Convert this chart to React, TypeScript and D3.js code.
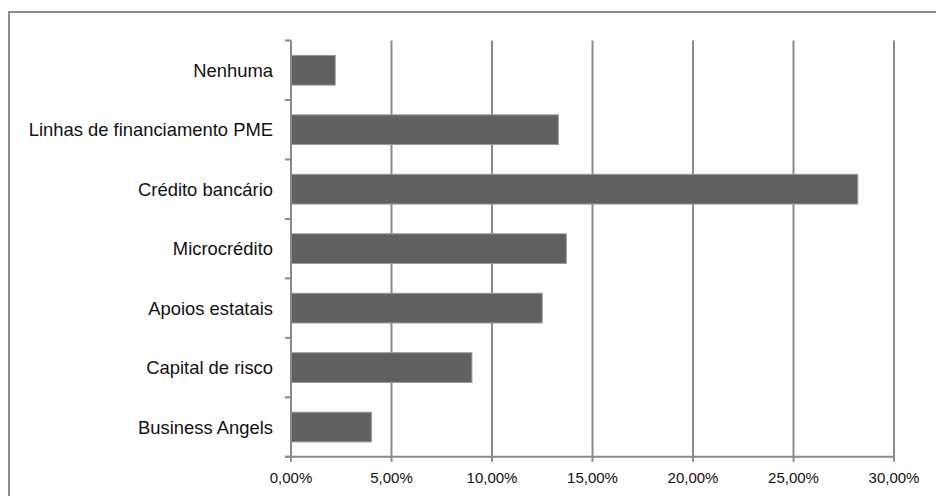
import React from "react";
import * as d3 from "d3";

// Fontes de financiamento (proporção de respostas), de cima para baixo
const categories = [
  "Nenhuma",
  "Linhas de financiamento PME",
  "Crédito bancário",
  "Microcrédito",
  "Apoios estatais",
  "Capital de risco",
  "Business Angels",
];
const values = [0.022, 0.133, 0.282, 0.137, 0.125, 0.09, 0.04];
const xTicks = [0, 0.05, 0.1, 0.15, 0.2, 0.25, 0.3];

const W = 936;
const H = 496;
const left = 291;
const right = 894;
const top = 40.5;
const bottom = 456.8;

const GRID = "#8a8a8a";
const BAR = "#606060";
const FONT = "'Liberation Sans', Arial, sans-serif";

const pt = d3.formatLocale({
  decimal: ",",
  thousands: ".",
  grouping: [3],
  currency: ["", "€"],
});
const fmt = pt.format(".2%");

export default function App() {
  const x = d3.scaleLinear().domain([0, 0.3]).range([left, right]);
  const y = d3
    .scaleBand<string>()
    .domain(categories)
    .range([top, bottom])
    .paddingInner(0.5)
    .paddingOuter(0.25);
  const step = y.step();
  const boundaries = d3.range(categories.length + 1).map((i) => top + i * step);

  return (
    <svg
      width={W}
      height={H}
      style={{ position: "absolute", left: 0, top: 0, background: "#fff" }}
      fontFamily={FONT}
    >
      {/* moldura */}
      <path
        d={`M9,${H + 2} V12 H${W + 2}`}
        fill="none"
        stroke="#8c8c8c"
        strokeWidth={2}
      />

      {/* linhas de grelha verticais */}
      {xTicks.slice(1).map((t) => (
        <line
          key={"g" + t}
          x1={x(t)}
          x2={x(t)}
          y1={top}
          y2={bottom}
          stroke={GRID}
          strokeWidth={2}
        />
      ))}

      {/* barras */}
      {categories.map((c, i) => (
        <rect
          key={c}
          x={x(0)}
          y={y(c)}
          width={x(values[i]) - x(0)}
          height={y.bandwidth()}
          fill={BAR}
          stroke="#9a9a9a"
          strokeWidth={1}
        />
      ))}

      {/* eixo vertical e marcas */}
      <line x1={left} x2={left} y1={top} y2={bottom} stroke={GRID} strokeWidth={2} />
      {boundaries.map((b, i) => (
        <line
          key={"yt" + i}
          x1={left - 6}
          x2={left}
          y1={b}
          y2={b}
          stroke={GRID}
          strokeWidth={2}
        />
      ))}

      {/* eixo horizontal e marcas */}
      <line x1={left - 6} x2={right} y1={bottom} y2={bottom} stroke={GRID} strokeWidth={2} />
      {xTicks.map((t) => (
        <line
          key={"xt" + t}
          x1={x(t)}
          x2={x(t)}
          y1={bottom}
          y2={bottom + 5}
          stroke={GRID}
          strokeWidth={2}
        />
      ))}

      {/* rótulos das categorias */}
      {categories.map((c) => (
        <text
          key={"l" + c}
          x={left - 18}
          y={(y(c) ?? 0) + y.bandwidth() / 2}
          dy="0.36em"
          textAnchor="end"
          fontSize={18.4}
          fill="#111"
        >
          {c}
        </text>
      ))}

      {/* rótulos do eixo x */}
      {xTicks.map((t) => (
        <text
          key={"xl" + t}
          x={x(t)}
          y={483.3}
          textAnchor="middle"
          fontSize={15}
          fill="#111"
        >
          {fmt(t)}
        </text>
      ))}
    </svg>
  );
}
